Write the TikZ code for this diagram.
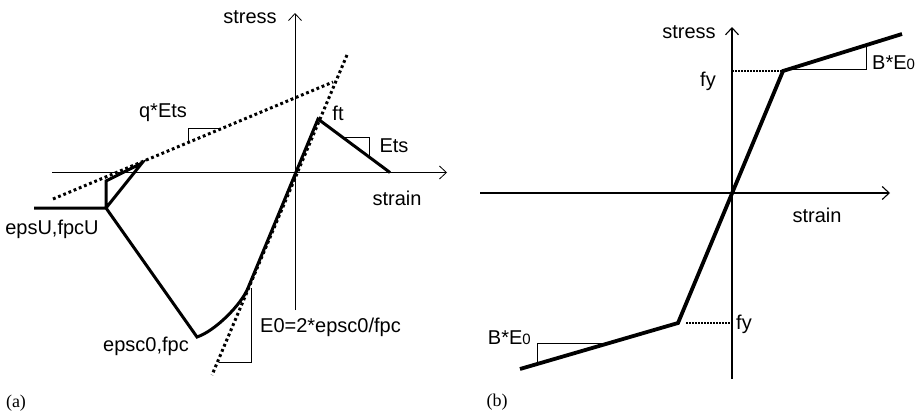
\documentclass[tikz,border=0pt]{standalone}
\usepackage{fontspec}
\setmainfont{Liberation Sans}
\newfontfamily\tagfont{Liberation Serif}
\usetikzlibrary{arrows.meta}
\tikzset{
  axisline/.style={line width=0.8pt,-{Straight Barb[length=7pt,width=13pt]}},
  curveline/.style={line width=3pt,line join=miter},
  steelline/.style={line width=3.8pt,line join=miter},
  tangentline/.style={line width=3pt,dash pattern=on 2.8pt off 2.8pt},
  slopemark/.style={line width=0.8pt},
  yieldline/.style={line width=1.4pt,dash pattern=on 2.2pt off 0.8pt},
  lbl/.style={font=\fontsize{20}{20}\selectfont,inner sep=0pt},
  tag/.style={font=\tagfont\fontsize{18}{18}\selectfont,inner sep=0pt},
}
\newcommand{\Ezero}{E{\fontsize{15}{15}\selectfont 0}}

\begin{document}
\begin{tikzpicture}[x=1pt,y=-1pt]
  \useasboundingbox (0,0) rectangle (919,415);
  % (a) concrete
  \coordinate (oa) at (295,172.5);
  \draw[axisline] (295,310) -- (295,13);
  \draw[axisline] (52,172.5) -- (447,172.5);
  \draw[tangentline] (53,199) -- (333,82);
  \draw[tangentline] (347,55) -- (212,375);
  \coordinate (u) at (106,208);
  \coordinate (c0) at (197,337);
  \coordinate (t0) at (248,288);
  \coordinate (ft) at (318,119);
  \draw[curveline] (34,208) -- (u) -- (106,181) -- (142,163) -- (u) -- (c0)
    .. controls (215,331) and (241,305) .. (t0) -- (ft) -- (390,172.5);
  \draw[slopemark] (188,142.5) -- (188,128) -- (221,128);
  \draw[slopemark] (343,137) -- (369,137) -- (369,156);
  \draw[slopemark] (251,288) -- (251,362) -- (219,362);
  \node[lbl] (sa) at (250,17) {stress};
  \node[lbl] (ea) at (397,198) {strain};
  \node[lbl] (q) at (163,113) {q*Ets};
  \node[lbl] (ftl) at (338,113) {ft};
  \node[lbl] (ets) at (394,146) {Ets};
  \node[lbl] (ul) at (52,229) {epsU,fpcU};
  \node[lbl] (cl) at (146,346) {epsc0,fpc};
  \node[lbl,anchor=west] (el) at (260,327) {E0=2*epsc0/fpc};
  \node[tag] (ta) at (16,403) {(a)};
  % (b) steel
  \coordinate (ob) at (732,193);
  \draw[axisline,line width=1.1pt] (732,379) -- (732,27);
  \draw[axisline,line width=1.1pt] (480,193) -- (890,193);
  \coordinate (yt) at (783,71);
  \coordinate (yc) at (678,323);
  \draw[steelline] (520,369) -- (yc) -- (yt) -- (902,34);
  \draw[yieldline] (732,71) -- (yt);
  \draw[yieldline] (686,323) -- (732,323);
  \draw[slopemark] (789,69) -- (866,69) -- (866,45);
  \draw[slopemark] (537,364) -- (537,343) -- (609,343);
  \node[lbl] (sb) at (689,32) {stress};
  \node[lbl] (eb) at (817,215) {strain};
  \node[lbl] (fyt) at (708,81) {fy};
  \node[lbl,anchor=west] (fyc) at (736,324) {fy};
  \node[lbl,anchor=west] (bt) at (872,63) {B*\Ezero};
  \node[lbl,anchor=east] (bc) at (531,338) {B*\Ezero};
  \node[tag] (tb) at (497,402) {(b)};
\end{tikzpicture}
\end{document}
